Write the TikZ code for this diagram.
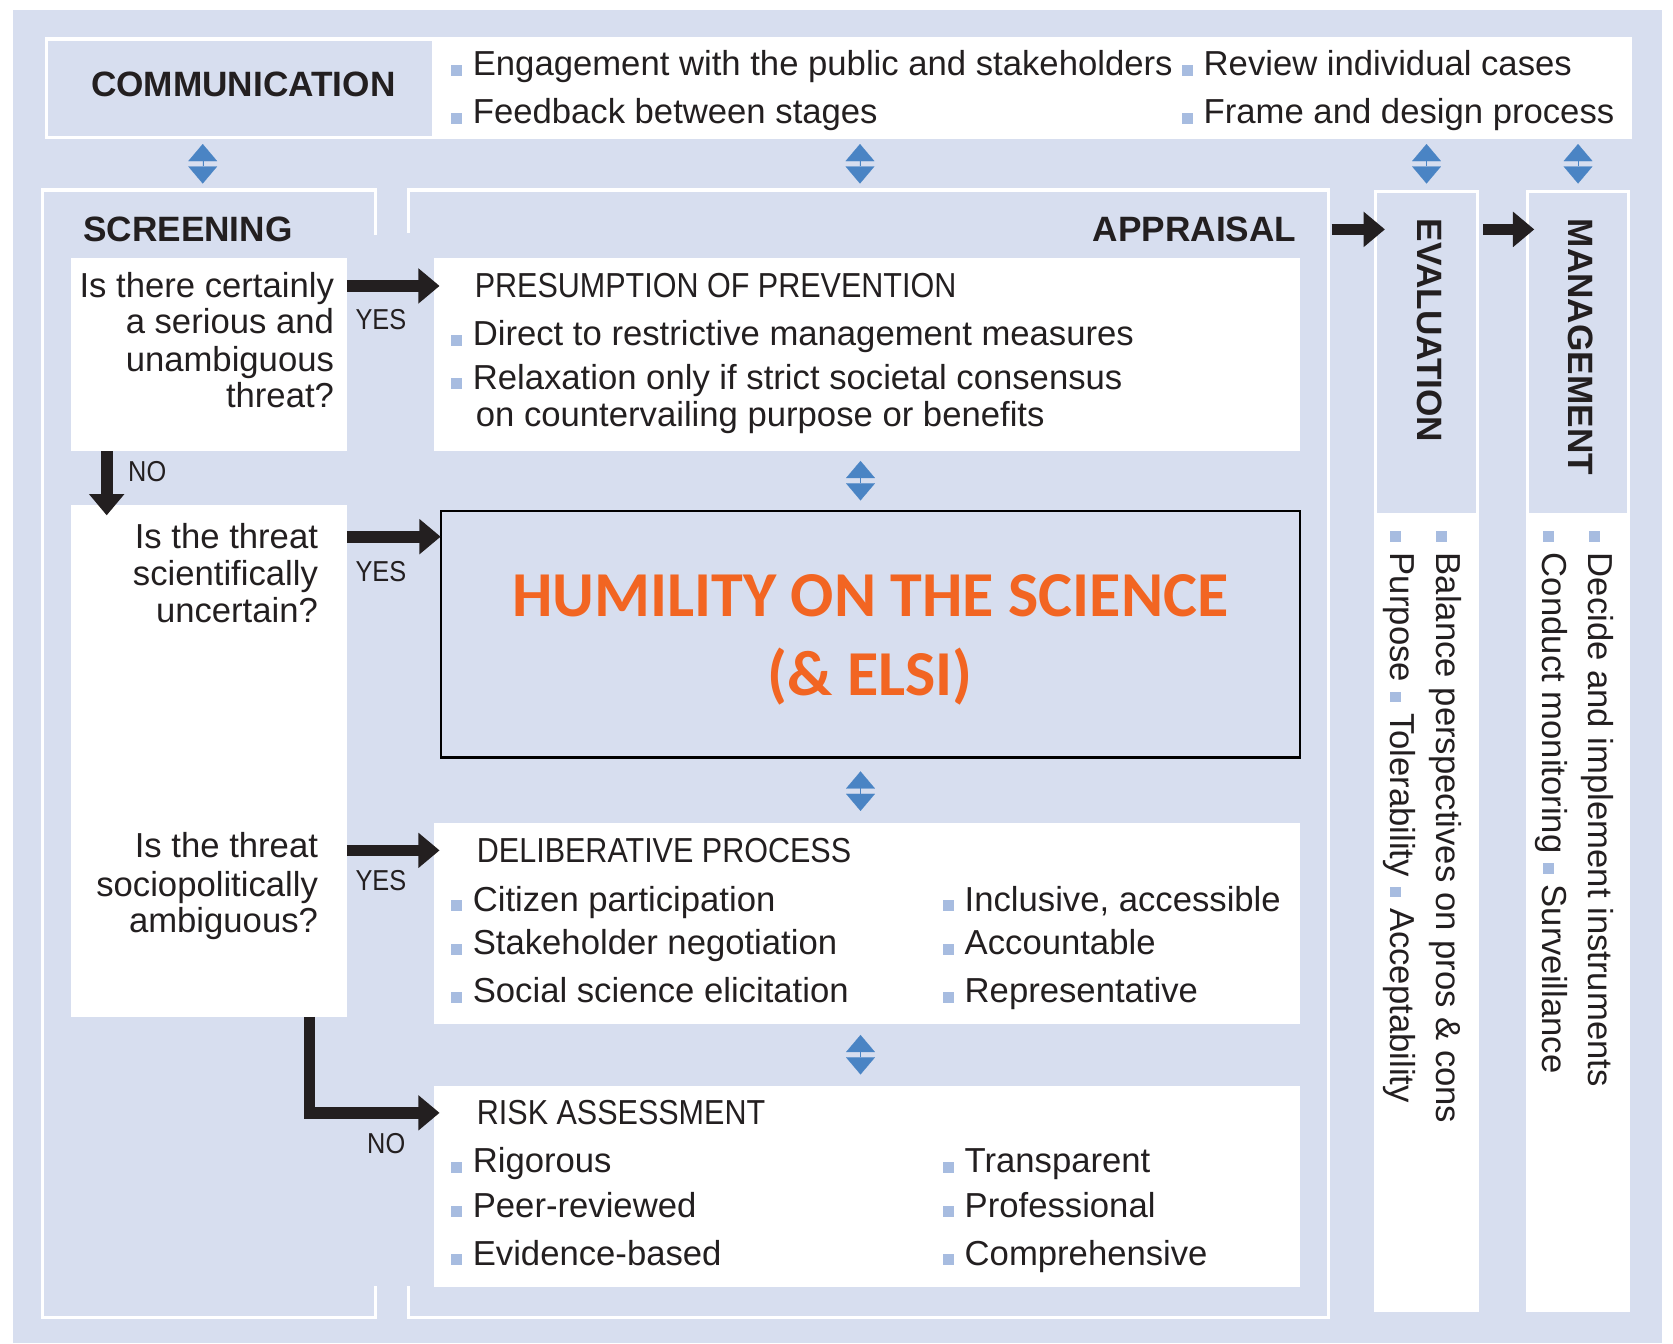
\documentclass[tikz,border=0pt]{standalone}
\usepackage{fontspec}
\setmainfont{Liberation Sans}
\newfontfamily\narrowfont[FakeStretch=0.88]{Liberation Sans}
\newfontfamily\calibrifont{Carlito}
\usetikzlibrary{arrows.meta}
\definecolor{bgblue}{HTML}{D7DEEF}
\definecolor{tipblue}{HTML}{4A84C4}
\definecolor{bulblue}{HTML}{A7BCE0}
\definecolor{humorange}{HTML}{F26522}
\definecolor{ink}{HTML}{231F20}
\newcommand{\bul}{{\color{bulblue}\rule{0.3em}{0.32em}}\hspace{0.32em}}

\begin{document}
\begin{tikzpicture}[x=1pt,y=-1pt,
  every node/.style={inner sep=0pt,outer sep=0pt,text=ink},
  wbox/.style={fill=white,anchor=north west},
  bluebox/.style={fill=bgblue,anchor=north west},
  frameline/.style={draw=white,line width=3pt},
  txt/.style={font=\fontsize{32.5}{39}\selectfont,anchor=base west},
  rtxt/.style={txt,anchor=base east},
  ttl/.style={font=\fontsize{33}{40}\selectfont\bfseries,anchor=base west},
  subttl/.style={font=\narrowfont\fontsize{32.5}{39}\selectfont,anchor=base west},
  yn/.style={font=\narrowfont\fontsize{27}{32}\selectfont,anchor=base},
  bigarrow/.style={draw=ink,line width=11pt,-{Triangle[length=20pt,width=32pt]}},
  updown/.style={draw=tipblue,fill=tipblue,line width=0.1pt,{Triangle[length=16pt,width=27pt]}-{Triangle[length=16pt,width=27pt]}}]
\useasboundingbox (0,0) rectangle (1568,1259);
\fill[white] (0,0) rectangle (1568,1259);
\fill[bgblue] (12,9) rectangle (1558,1259);

\node[wbox,minimum width=1488pt,minimum height=95pt] (comm) at (42,35) {};
\node[bluebox,minimum width=360pt,minimum height=89pt] (commttl) at (45,38) {};
\node[font=\fontsize{33}{40}\selectfont\bfseries] (commlbl) at ([xshift=3pt,yshift=3pt]commttl.center) {COMMUNICATION};
\node[txt] (c1) at (423,71) {\bul Engagement with the public and stakeholders};
\node[txt] (c2) at (423,116) {\bul Feedback between stages};
\node[txt] (c3) at (1108,71) {\bul Review individual cases};
\node[txt] (c4) at (1108,116) {\bul Frame and design process};

\node[minimum width=312pt,minimum height=1057pt,anchor=north west] (scr) at (40,178) {};
\node[minimum width=862pt,minimum height=1057pt,anchor=north west] (appr) at (383,178) {};
\draw[frameline] ([yshift=-42pt]scr.north east) -- (scr.north east) -- (scr.north west) -- (scr.south west) -- (scr.south east) -- ([yshift=30pt]scr.south east);
\draw[frameline] ([yshift=-40pt]appr.north west) -- (appr.north west) -- (appr.north east) -- (appr.south east) -- (appr.south west) -- ([yshift=30pt]appr.south west);
\node[ttl] (scrlbl) at (78,226) {SCREENING};
\node[ttl,anchor=base east] (apprlbl) at (1215,226) {APPRAISAL};

\node[wbox,minimum width=98pt,minimum height=1052pt] (evalc) at (1288,178) {};
\node[bluebox,minimum width=92pt,minimum height=300pt] (evaltop) at (1291,181) {};
\node[wbox,minimum width=98pt,minimum height=1052pt] (mgmt) at (1430,178) {};
\node[bluebox,minimum width=92pt,minimum height=300pt] (mgmttop) at (1433,181) {};
\node[ttl,rotate=-90,anchor=west] (evallbl) at (1340,205) {EVALUATION};
\node[ttl,rotate=-90,anchor=west] (mgmtlbl) at (1481,205) {MANAGEMENT};
\node[txt,rotate=-90] (e1) at (1346,498) {\bul Balance perspectives on pros \& cons};
\node[txt,rotate=-90] (e2) at (1303,498) {\bul Purpose \bul Tolerability \bul Acceptability};
\node[txt,rotate=-90] (m1) at (1489,498) {\bul Decide and implement instruments};
\node[txt,rotate=-90] (m2) at (1446,498) {\bul Conduct monitoring \bul Surveillance};

\node[wbox,minimum width=258pt,minimum height=181pt] (q1) at (67,242) {};
\node[wbox,minimum width=258pt,minimum height=480pt] (q2) at (67,473) {};
\node[wbox,minimum width=811pt,minimum height=181pt] (prev) at (407,242) {};
\node[bluebox,draw=black,line width=2pt,minimum width=805pt,minimum height=231pt] (hum) at (413,479) {};
\node[align=center,text=humorange,font=\calibrifont\bfseries\fontsize{60}{74}\selectfont] (humlbl) at ([yshift=-5pt]hum.center) {HUMILITY ON THE SCIENCE\\(\& ELSI)};
\node[wbox,minimum width=811pt,minimum height=189pt] (delib) at (407,771) {};
\node[wbox,minimum width=811pt,minimum height=188pt] (risk) at (407,1018) {};

\node[rtxt] (q1a) at (313,279) {Is there certainly};
\node[rtxt] (q1b) at (313,313) {a serious and};
\node[rtxt] (q1c) at (313,348) {unambiguous};
\node[rtxt] (q1d) at (313,382) {threat?};
\node[rtxt] (q2a) at (298,514) {Is the threat};
\node[rtxt] (q2b) at (298,549) {scientifically};
\node[rtxt] (q2c) at (298,583) {uncertain?};
\node[rtxt] (q3a) at (298,804) {Is the threat};
\node[rtxt] (q3b) at (298,840) {sociopolitically};
\node[rtxt] (q3c) at (298,874) {ambiguous?};

\node[subttl] (prevttl) at (445,279) {PRESUMPTION OF PREVENTION};
\node[txt] (p1) at (423,324) {\bul Direct to restrictive management measures};
\node[txt] (p2) at (423,365) {\bul Relaxation only if strict societal consensus};
\node[txt] (p3) at (446,400) {on countervailing purpose or benefits};

\node[subttl] (delibttl) at (447,808) {DELIBERATIVE PROCESS};
\node[txt] (d1) at (423,854) {\bul Citizen participation};
\node[txt] (d2) at (423,895) {\bul Stakeholder negotiation};
\node[txt] (d3) at (423,940) {\bul Social science elicitation};
\node[txt] (d4) at (884,854) {\bul Inclusive, accessible};
\node[txt] (d5) at (884,895) {\bul Accountable};
\node[txt] (d6) at (884,940) {\bul Representative};

\node[subttl] (riskttl) at (447,1054) {RISK ASSESSMENT};
\node[txt] (r1) at (423,1099) {\bul Rigorous};
\node[txt] (r2) at (423,1141) {\bul Peer-reviewed};
\node[txt] (r3) at (423,1186) {\bul Evidence-based};
\node[txt] (r4) at (884,1099) {\bul Transparent};
\node[txt] (r5) at (884,1141) {\bul Professional};
\node[txt] (r6) at (884,1186) {\bul Comprehensive};

\draw[bigarrow] ([yshift=-26pt]q1.north east) -- ([xshift=5pt,yshift=-26pt]prev.north west);
\draw[bigarrow] ([yshift=-30pt]q2.north east) -- ([yshift=-24pt]hum.north west);
\draw[bigarrow] ([yshift=-324pt]q2.north east) -- ([xshift=5pt,yshift=-26pt]delib.north west);
\draw[bigarrow] ([xshift=33pt]q1.south west) -- ([xshift=33pt,yshift=-10pt]q2.north west);
\draw[bigarrow] ([xshift=-35pt]q2.south east) |- ([xshift=5pt,yshift=-25pt]risk.north west);
\draw[bigarrow] ([xshift=3pt,yshift=-37pt]appr.north east) -- ([xshift=10pt,yshift=-37pt]evalc.north west);
\draw[bigarrow] ([xshift=4pt,yshift=-37pt]evalc.north east) -- ([xshift=8pt,yshift=-37pt]mgmt.north west);
\node[yn] (yes1) at (357,309) {YES};
\node[yn] (yes2) at (357,545) {YES};
\node[yn] (yes3) at (357,835) {YES};
\node[yn] (no1) at (138,451) {NO};
\node[yn] (no2) at (362,1081) {NO};

\draw[updown] ([xshift=-6pt,yshift=43pt]scr.north) -- ([xshift=-6pt,yshift=6pt]scr.north);
\draw[updown] ([xshift=-8pt,yshift=43pt]appr.north) -- ([xshift=-8pt,yshift=6pt]appr.north);
\draw[updown] ([yshift=43pt]evalc.north) -- ([yshift=6pt]evalc.north);
\draw[updown] ([yshift=43pt]mgmt.north) -- ([yshift=6pt]mgmt.north);
\draw[updown] ([xshift=-6pt,yshift=-9pt]prev.south) -- ([xshift=-9pt,yshift=10pt]hum.north);
\draw[updown] ([xshift=-9pt,yshift=-13pt]hum.south) -- ([xshift=-6pt,yshift=11pt]delib.north);
\draw[updown] ([xshift=-6pt,yshift=-10pt]delib.south) -- ([xshift=-6pt,yshift=11pt]risk.north);
\end{tikzpicture}
\end{document}
